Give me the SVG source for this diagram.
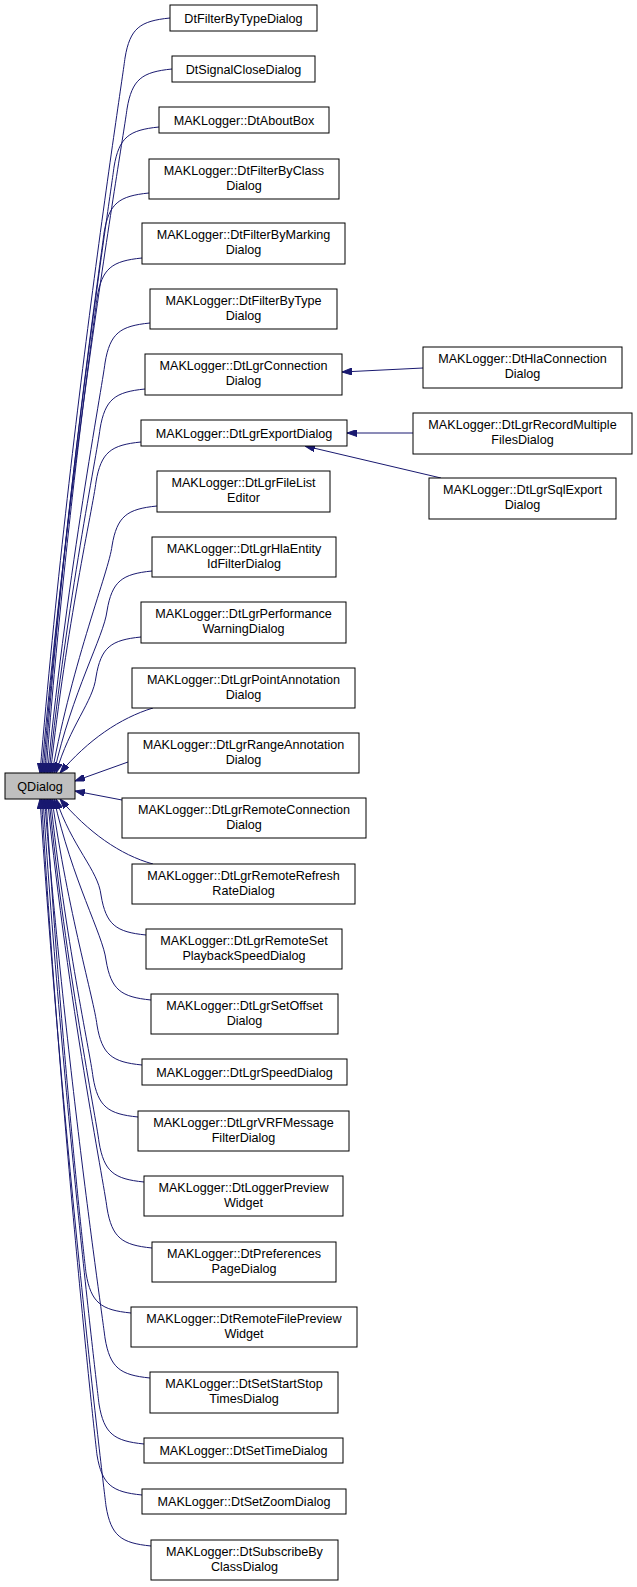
<svg xmlns="http://www.w3.org/2000/svg" width="637" height="1587" viewBox="0 0 637 1587">
<style>
.n rect{fill:#fff;stroke:#000;stroke-width:1}
.q rect{fill:#bfbfbf}
text{font-family:"Liberation Sans",Arial,sans-serif;font-size:12.6px;text-anchor:middle;fill:#000}
.e path{fill:none;stroke:#191970;stroke-width:1;marker-start:url(#a)}
</style>
<defs>
<marker id="a" viewBox="0 0 10 7" refX="10" refY="3.5" markerWidth="10" markerHeight="7" markerUnits="userSpaceOnUse" orient="auto-start-reverse">
<path d="M0,0 L10,3.5 L0,7 z" fill="#191970" stroke="#191970"/>
</marker>
</defs>
<rect width="637" height="1587" fill="#fff"/>
<g class="e" id="edges">
<path d="M40,773 C70,415 122,83 125,58 C130,28 140,21 170,18"/>
<path d="M41.5,773 C71,441 124,134 127,109 C132,79 142,72 172,69"/>
<path d="M43,773 C68,470 111,192 114,167 C119,137 129,130 159,127"/>
<path d="M44.5,773 C65,503 101,258 104,233 C109,203 119,196 149,193"/>
<path d="M46,773 C64,535 94,323 97,298 C102,268 112,261 142,258"/>
<path d="M47.5,773 C68,568 102,388 105,363 C110,333 120,326 150,323"/>
<path d="M49,773 C67,601 97,454 100,429 C105,399 115,392 145,389"/>
<path d="M50.5,773 C66,627 93,507 96,482 C101,452 111,445 141,442"/>
<path d="M52,773 C73,659 109,571 112,546 C117,516 127,509 157,506"/>
<path d="M54,773 C72,692 104,636 107,611 C112,581 122,574 152,571"/>
<path d="M56,773 C70,725 93,702 96,677 C101,647 111,640 141,637"/>
<path d="M60,773 C88,740 120,718 153,708"/>
<path d="M75,781 L128,762"/>
<path d="M75,791 L122,800"/>
<path d="M60,799 C88,832 120,855 153,864"/>
<path d="M56,799 C72,847 98,870 101,895 C106,925 116,932 146,935"/>
<path d="M54,799 C72,880 103,935 106,960 C111,990 121,997 151,1000"/>
<path d="M52,799 C68,912 94,1000 97,1025 C102,1055 112,1062 142,1065"/>
<path d="M50.5,799 C65,938 90,1052 93,1077 C98,1107 108,1114 138,1117"/>
<path d="M49,799 C66,970 96,1117 99,1142 C104,1172 114,1179 144,1182"/>
<path d="M47.5,799 C68,1003 104,1183 107,1208 C112,1238 122,1245 152,1248"/>
<path d="M46,799 C60,1036 83,1248 86,1273 C91,1303 101,1310 131,1313"/>
<path d="M44.5,799 C66,1068 102,1313 105,1338 C110,1368 120,1375 150,1378"/>
<path d="M43,799 C63,1101 96,1379 99,1404 C104,1434 114,1441 144,1444"/>
<path d="M41.5,799 C61,1127 94,1430 97,1455 C102,1485 112,1492 142,1495"/>
<path d="M40,799 C63,1152 103,1481 106,1506 C111,1536 121,1543 151,1546"/>
<path d="M342,372 L423,368"/>
<path d="M347,433 L413,433"/>
<path d="M305,446 L441,478"/>
</g>
<g class="n q" id="QDialog"><rect x="5" y="773" width="70" height="26"/><text x="40" y="791">QDialog</text></g>
<g class="n" id="n1"><rect x="170" y="5" width="147" height="26"/><text x="243.5" y="23">DtFilterByTypeDialog</text></g>
<g class="n" id="n2"><rect x="172" y="56" width="143" height="26"/><text x="243.5" y="74">DtSignalCloseDialog</text></g>
<g class="n" id="n3"><rect x="159" y="107" width="170" height="26"/><text x="244" y="125">MAKLogger::DtAboutBox</text></g>
<g class="n" id="n4"><rect x="149" y="159" width="190" height="40"/><text x="244" y="175">MAKLogger::DtFilterByClass</text><text x="244" y="190">Dialog</text></g>
<g class="n" id="n5"><rect x="142" y="223" width="203" height="41"/><text x="243.5" y="239">MAKLogger::DtFilterByMarking</text><text x="243.5" y="254">Dialog</text></g>
<g class="n" id="n6"><rect x="150" y="289" width="187" height="40"/><text x="243.5" y="305">MAKLogger::DtFilterByType</text><text x="243.5" y="320">Dialog</text></g>
<g class="n" id="n7"><rect x="145" y="354" width="197" height="41"/><text x="243.5" y="370">MAKLogger::DtLgrConnection</text><text x="243.5" y="385">Dialog</text></g>
<g class="n" id="n8"><rect x="141" y="420" width="206" height="26"/><text x="244" y="438">MAKLogger::DtLgrExportDialog</text></g>
<g class="n" id="n9"><rect x="157" y="471" width="173" height="41"/><text x="243.5" y="487">MAKLogger::DtLgrFileList</text><text x="243.5" y="502">Editor</text></g>
<g class="n" id="n10"><rect x="152" y="537" width="184" height="40"/><text x="244" y="553">MAKLogger::DtLgrHlaEntity</text><text x="244" y="568">IdFilterDialog</text></g>
<g class="n" id="n11"><rect x="141" y="602" width="205" height="41"/><text x="243.5" y="618">MAKLogger::DtLgrPerformance</text><text x="243.5" y="633">WarningDialog</text></g>
<g class="n" id="n12"><rect x="132" y="668" width="223" height="40"/><text x="243.5" y="684">MAKLogger::DtLgrPointAnnotation</text><text x="243.5" y="699">Dialog</text></g>
<g class="n" id="n13"><rect x="128" y="733" width="231" height="40"/><text x="243.5" y="749">MAKLogger::DtLgrRangeAnnotation</text><text x="243.5" y="764">Dialog</text></g>
<g class="n" id="n14"><rect x="122" y="798" width="244" height="40"/><text x="244" y="814">MAKLogger::DtLgrRemoteConnection</text><text x="244" y="829">Dialog</text></g>
<g class="n" id="n15"><rect x="132" y="864" width="223" height="40"/><text x="243.5" y="880">MAKLogger::DtLgrRemoteRefresh</text><text x="243.5" y="895">RateDialog</text></g>
<g class="n" id="n16"><rect x="146" y="929" width="196" height="40"/><text x="244" y="945">MAKLogger::DtLgrRemoteSet</text><text x="244" y="960">PlaybackSpeedDialog</text></g>
<g class="n" id="n17"><rect x="151" y="994" width="187" height="40"/><text x="244.5" y="1010">MAKLogger::DtLgrSetOffset</text><text x="244.5" y="1025">Dialog</text></g>
<g class="n" id="n18"><rect x="142" y="1059" width="205" height="26"/><text x="244.5" y="1077">MAKLogger::DtLgrSpeedDialog</text></g>
<g class="n" id="n19"><rect x="138" y="1111" width="211" height="40"/><text x="243.5" y="1127">MAKLogger::DtLgrVRFMessage</text><text x="243.5" y="1142">FilterDialog</text></g>
<g class="n" id="n20"><rect x="144" y="1176" width="199" height="40"/><text x="243.5" y="1192">MAKLogger::DtLoggerPreview</text><text x="243.5" y="1207">Widget</text></g>
<g class="n" id="n21"><rect x="152" y="1242" width="184" height="40"/><text x="244" y="1258">MAKLogger::DtPreferences</text><text x="244" y="1273">PageDialog</text></g>
<g class="n" id="n22"><rect x="131" y="1307" width="226" height="40"/><text x="244" y="1323">MAKLogger::DtRemoteFilePreview</text><text x="244" y="1338">Widget</text></g>
<g class="n" id="n23"><rect x="150" y="1372" width="188" height="41"/><text x="244" y="1388">MAKLogger::DtSetStartStop</text><text x="244" y="1403">TimesDialog</text></g>
<g class="n" id="n24"><rect x="144" y="1438" width="199" height="25"/><text x="243.5" y="1455">MAKLogger::DtSetTimeDialog</text></g>
<g class="n" id="n25"><rect x="142" y="1489" width="204" height="25"/><text x="244" y="1506">MAKLogger::DtSetZoomDialog</text></g>
<g class="n" id="n26"><rect x="151" y="1540" width="187" height="40"/><text x="244.5" y="1556">MAKLogger::DtSubscribeBy</text><text x="244.5" y="1571">ClassDialog</text></g>
<g class="n" id="r1"><rect x="423" y="347" width="199" height="41"/><text x="522.5" y="363">MAKLogger::DtHlaConnection</text><text x="522.5" y="378">Dialog</text></g>
<g class="n" id="r2"><rect x="413" y="413" width="219" height="41"/><text x="522.5" y="429">MAKLogger::DtLgrRecordMultiple</text><text x="522.5" y="444">FilesDialog</text></g>
<g class="n" id="r3"><rect x="429" y="478" width="187" height="41"/><text x="522.5" y="494">MAKLogger::DtLgrSqlExport</text><text x="522.5" y="509">Dialog</text></g>
</svg>
